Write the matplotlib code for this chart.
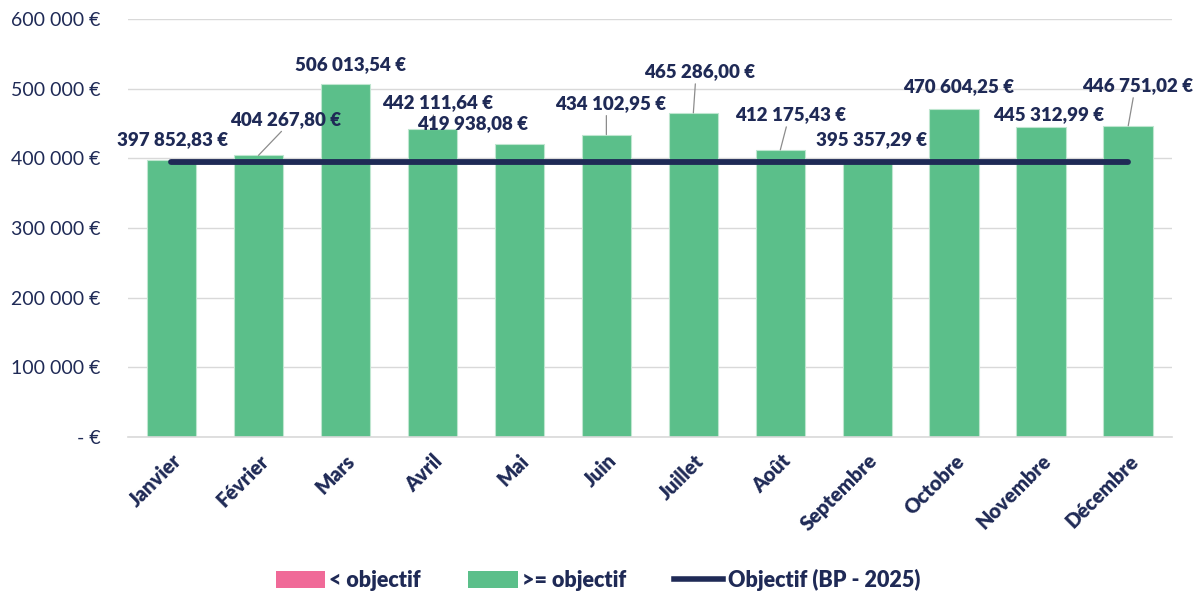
import matplotlib
matplotlib.use("Agg")
import matplotlib.pyplot as plt
from matplotlib.patches import Patch
from matplotlib.lines import Line2D

mois = ["Janvier", "Février", "Mars", "Avril", "Mai", "Juin", "Juillet",
        "Août", "Septembre", "Octobre", "Novembre", "Décembre"]
valeurs = [397852.83, 404267.80, 506013.54, 442111.64, 419938.08, 434102.95,
           465286.00, 412175.43, 395357.29, 470604.25, 445312.99, 446751.02]
objectif = 394500
yticks = [0, 100000, 200000, 300000, 400000, 500000, 600000]
ytick_labels = ["- €", "100 000 €", "200 000 €", "300 000 €", "400 000 €",
                "500 000 €", "600 000 €"]

# label offsets in pixels (dx, dy) relative to top of bar, and leader flag
label_offsets = [(1, 20), (27, 36), (5, 20), (5, 26), (-47, 21), (4, 31),
                 (6, 41), (10, 35), (4, 22), (4, 23), (7, 12), (9, 40)]
leaders = [False, True, False, True, False, True, True, True, False, False, False, True]

NAVY = "#1F2A56"
GREEN = "#5BBF8A"
PINK = "#F06A98"
FONT = "Lato"

plt.rcParams["font.family"] = [FONT, "DejaVu Sans"]

fig = plt.figure(figsize=(12.03, 5.98), dpi=100)
ax = fig.add_axes([0.1064, 0.2692, 0.8676, 0.6990])

x = list(range(len(mois)))
below = [v if v < objectif else 0 for v in valeurs]
above = [v if v >= objectif else 0 for v in valeurs]
ax.bar(x, below, width=0.57, color=PINK, edgecolor="#F9C6D8", linewidth=0.8, zorder=2)
ax.bar(x, above, width=0.57, color=GREEN, edgecolor="#BFE6D0", linewidth=0.8, zorder=2)
ax.plot(x, [objectif] * len(x), color=NAVY, lw=4.2, solid_capstyle="round", zorder=3)

def fmt(v):
    s = f"{v:,.2f}"
    ent, dec = s.split(".")
    return ent.replace(",", " ") + "," + dec + " €"

for i, v in enumerate(valeurs):
    dx, dy = label_offsets[i]
    ax.annotate(fmt(v), xy=(i, v), xytext=(dx, dy), textcoords="offset pixels",
                ha="center", va="center", fontsize=13.5, fontweight="heavy",
                color=NAVY, zorder=5)
    if leaders[i]:
        ax.annotate("", xy=(i, v), xytext=(dx - 4, dy - 12), textcoords="offset pixels",
                    arrowprops=dict(arrowstyle="-", color="#8C8C8C", lw=0.9,
                                    shrinkA=0, shrinkB=0), zorder=4)

ax.set_xlim(-0.5, len(mois) - 0.5)
ax.set_ylim(0, 600000)
ax.set_yticks(yticks)
ax.set_yticklabels(ytick_labels, fontsize=14, color=NAVY)
ax.set_xticks(x)
ax.set_xticklabels(mois, rotation=45, ha="right", rotation_mode="anchor",
                   fontsize=14.5, fontweight="heavy", color=NAVY)
ax.tick_params(axis="both", length=0)
ax.tick_params(axis="y", pad=20)
ax.tick_params(axis="x", pad=10)
ax.grid(axis="y", color="#D9D9D9", lw=1, zorder=0)
ax.set_axisbelow(True)
for side in ["top", "right", "left"]:
    ax.spines[side].set_visible(False)
ax.spines["bottom"].set_color("#D9D9D9")
ax.spines["bottom"].set_linewidth(1.2)

handles = [Patch(facecolor=PINK, edgecolor="none"),
           Patch(facecolor=GREEN, edgecolor="none"),
           Line2D([0], [0], color=NAVY, lw=4)]
labels = ["< objectif", ">= objectif", "Objectif (BP - 2025)"]
leg = fig.legend(handles, labels, loc="center", bbox_to_anchor=(0.497, 0.03), ncol=3,
                 frameon=False, fontsize=15.5, handlelength=2.3, handleheight=0.8,
                 handletextpad=0.2, columnspacing=2.2)
for t in leg.get_texts():
    t.set_color(NAVY)
    t.set_fontweight("heavy")

fig.savefig("out.png", dpi=100)
